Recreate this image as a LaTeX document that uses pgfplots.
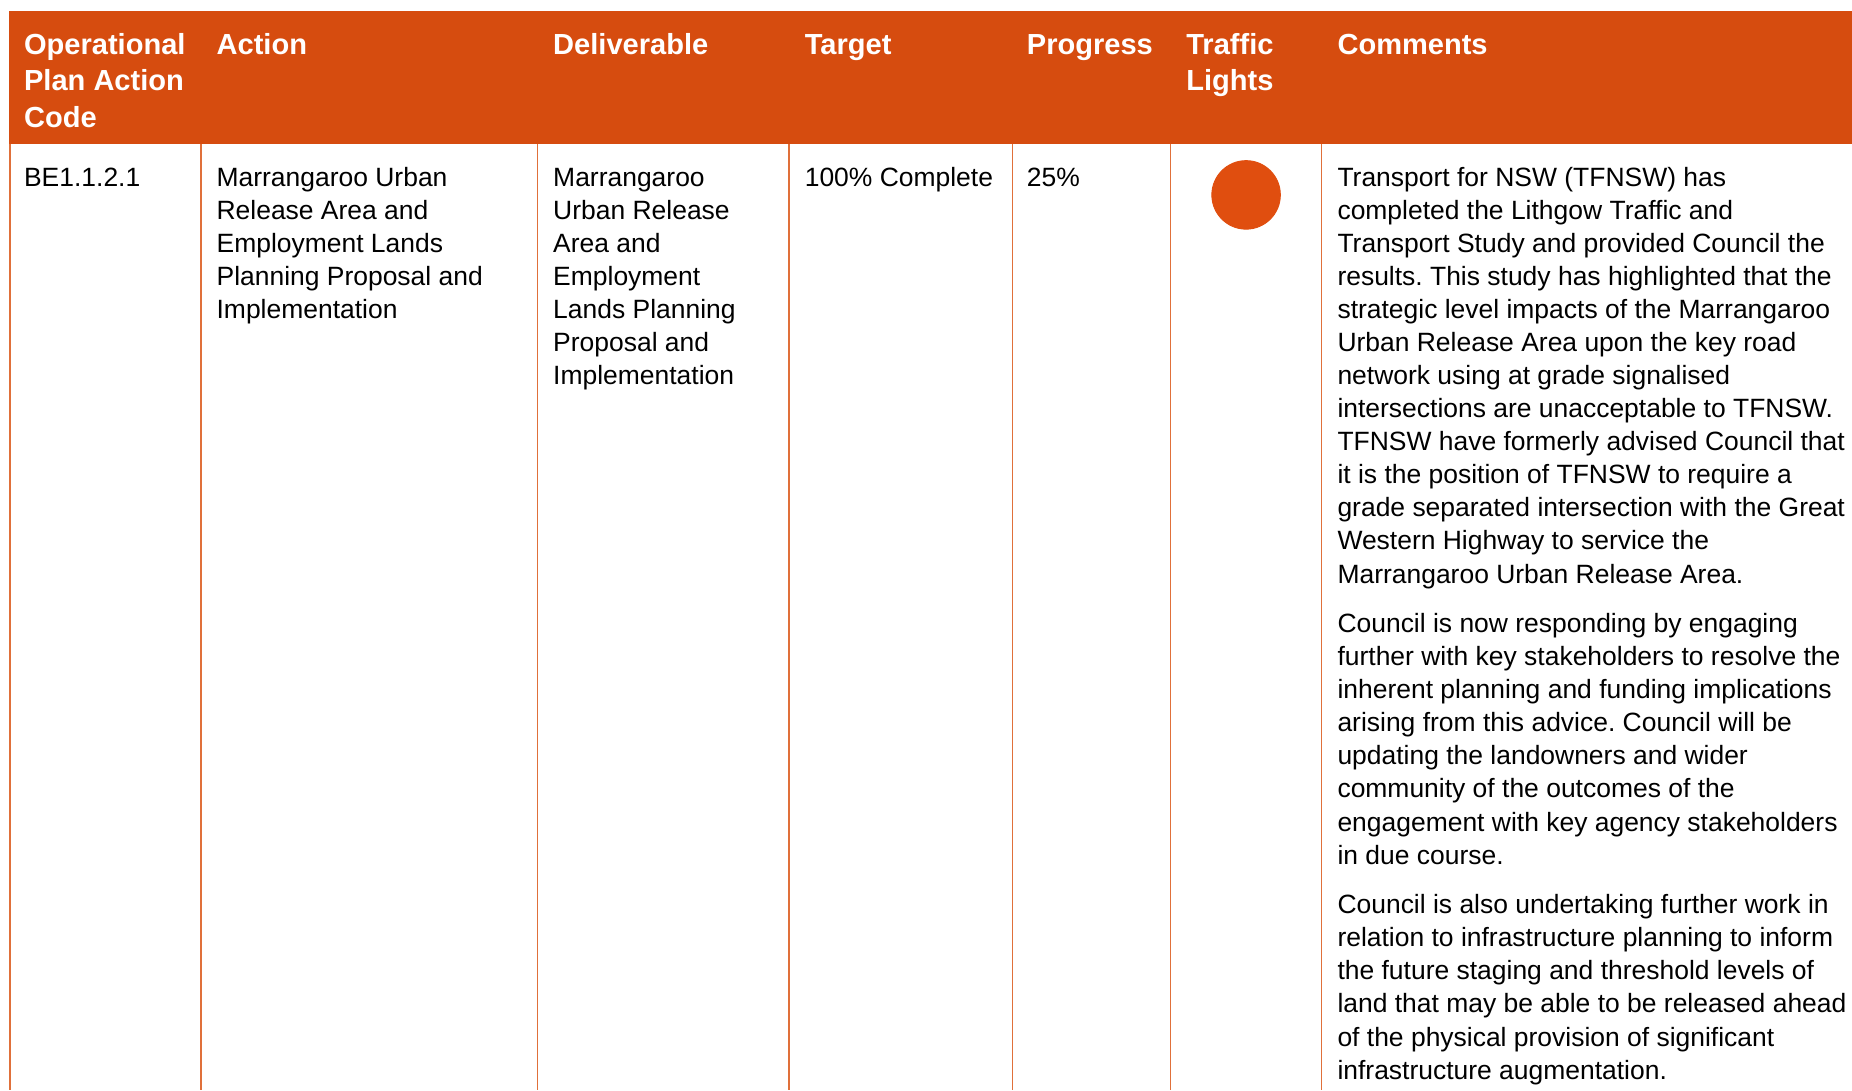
\documentclass[border=0pt]{standalone}
\usepackage{pgfplots}
\pgfplotsset{compat=1.18}
\usepackage{fontspec}
\setmainfont{Liberation Sans}
\definecolor{hdr}{HTML}{D64C0F}
\definecolor{tl}{HTML}{E04E0F}
\definecolor{rule}{HTML}{E0703A}
\newcommand{\body}{\fontsize{11.2}{14}\selectfont\frenchspacing}
\newcommand{\head}{\fontsize{12.3}{15.5}\selectfont\bfseries}
\begin{document}
\begin{tikzpicture}
\begin{axis}[
  width=784pt, height=461.5pt, scale only axis,
  xmin=0, xmax=1568, ymin=0, ymax=923, y dir=reverse,
  hide axis, clip=true,
]
% header band
\addplot[fill=hdr, draw=none] coordinates {(8,9) (1568,9) (1568,122) (8,122)} -- cycle;
% grid lines
\addplot[draw=rule, line width=0.6pt] coordinates {(8.3,122) (8.3,923)};
\addplot[draw=rule, line width=0.6pt] coordinates {(170,122) (170,923)};
\addplot[draw=rule, line width=0.6pt] coordinates {(455,122) (455,923)};
\addplot[draw=rule, line width=0.6pt] coordinates {(668,122) (668,923)};
\addplot[draw=rule, line width=0.6pt] coordinates {(857,122) (857,923)};
\addplot[draw=rule, line width=0.6pt] coordinates {(991,122) (991,923)};
\addplot[draw=rule, line width=0.6pt] coordinates {(1119,122) (1119,923)};
% traffic light
\addplot[only marks, mark=*, mark size=14.5pt, color=tl, mark options={draw=tl, fill=tl}] coordinates {(1055,165)};

% headers
\node[anchor=north west, inner sep=0, align=left, font=\head, text=white] at (axis cs:20,23.8) {\strut Operational\\Plan Action\\Code};
\node[anchor=north west, inner sep=0, align=left, font=\head, text=white] at (axis cs:183,23.8) {\strut Action};
\node[anchor=north west, inner sep=0, align=left, font=\head, text=white] at (axis cs:468,23.8) {\strut Deliverable};
\node[anchor=north west, inner sep=0, align=left, font=\head, text=white] at (axis cs:681,23.8) {\strut Target};
\node[anchor=north west, inner sep=0, align=left, font=\head, text=white] at (axis cs:869,23.8) {\strut Progress};
\node[anchor=north west, inner sep=0, align=left, font=\head, text=white] at (axis cs:1004,23.8) {\strut Traffic\\Lights};
\node[anchor=north west, inner sep=0, align=left, font=\head, text=white] at (axis cs:1132,23.8) {\strut Comments};

% body
\node[anchor=north west, inner sep=0, align=left, font=\body, text=black] at (axis cs:20,137.6) {\strut BE1.1.2.1};
\node[anchor=north west, inner sep=0, align=left, font=\body, text=black] at (axis cs:183,137.6) {\strut Marrangaroo Urban\\Release Area and\\Employment Lands\\Planning Proposal and\\Implementation};
\node[anchor=north west, inner sep=0, align=left, font=\body, text=black] at (axis cs:468,137.6) {\strut Marrangaroo\\Urban Release\\Area and\\Employment\\Lands Planning\\Proposal and\\Implementation};
\node[anchor=north west, inner sep=0, align=left, font=\body, text=black] at (axis cs:681,137.6) {\strut 100\% Complete};
\node[anchor=north west, inner sep=0, align=left, font=\body, text=black] at (axis cs:869,137.6) {\strut 25\%};
\node[anchor=north west, inner sep=0, align=left, font=\body, text=black] at (axis cs:1132,137.6) {\strut Transport for NSW (TFNSW) has\\completed the Lithgow Traffic and\\Transport Study and provided Council the\\results. This study has highlighted that the\\strategic level impacts of the Marrangaroo\\Urban Release Area upon the key road\\network using at grade signalised\\intersections are unacceptable to TFNSW.\\TFNSW have formerly advised Council that\\it is the position of TFNSW to require a\\grade separated intersection with the Great\\Western Highway to service the\\Marrangaroo Urban Release Area.};
\node[anchor=north west, inner sep=0, align=left, font=\body, text=black] at (axis cs:1132,515.6) {\strut Council is now responding by engaging\\further with key stakeholders to resolve the\\inherent planning and funding implications\\arising from this advice. Council will be\\updating the landowners and wider\\community of the outcomes of the\\engagement with key agency stakeholders\\in due course.};
\node[anchor=north west, inner sep=0, align=left, font=\body, text=black] at (axis cs:1132,753.6) {\strut Council is also undertaking further work in\\relation to infrastructure planning to inform\\the future staging and threshold levels of\\land that may be able to be released ahead\\of the physical provision of significant\\infrastructure augmentation.};
\end{axis}
\pgfresetboundingbox
\path[use as bounding box] (current axis.south west) rectangle (current axis.north east);
\end{tikzpicture}
\end{document}
